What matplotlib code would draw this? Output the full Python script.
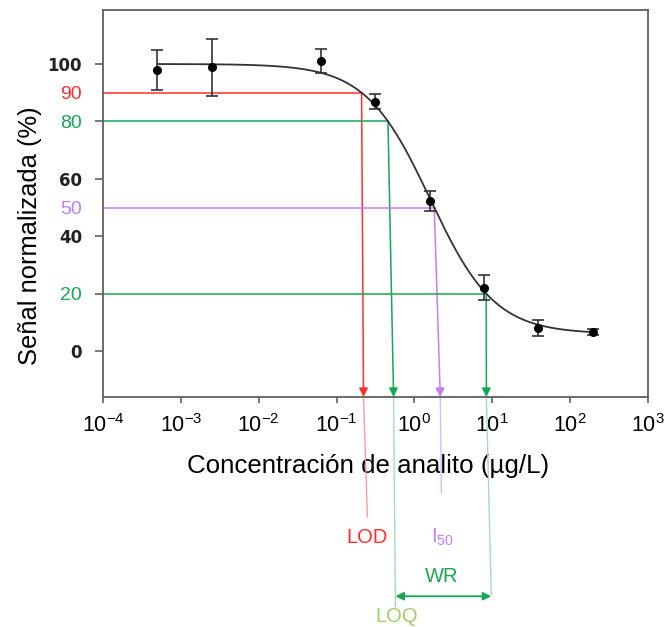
import numpy as np
import matplotlib
matplotlib.use('Agg')
import matplotlib.pyplot as plt
from matplotlib.ticker import LogLocator, LogFormatterMathtext, NullLocator

plt.rcParams['font.family'] = ['Liberation Sans', 'DejaVu Sans']
plt.rcParams['mathtext.fontset'] = 'custom'
plt.rcParams['mathtext.rm'] = 'Liberation Sans'

# datos (serie de diluciones 1:5)
conc = [0.0005, 0.0025, 0.0625, 0.3125, 1.5625, 7.8125, 39.0625, 195.3125]
signal = [98.0, 98.8, 101.1, 86.9, 52.4, 22.1, 8.0, 6.7]
signal_err = [7.0, 9.8, 4.2, 2.5, 3.5, 4.3, 2.7, 1.0]

# ajuste logistico de 4 parametros
fit_top, fit_bottom, fit_hill, fit_ic50 = 100.0, 6.0, 1.05, 1.59

# lineas guia: nivel, conc. en el eje, conc. final bajo el eje, y final
guide_levels = [90, 80, 50, 20]
guide_x_axis = [0.222, 0.54, 2.15, 8.4]
guide_x_end = [0.249, 0.57, 2.22, 9.7]
guide_y_end = [-57.8, -89.0, -49.5, -85.0]
guide_colors = ['#ff2d2d', '#14a850', '#c67cf5', '#14a850']
guide_pale = ['#ff9a9a', '#a6dcb4', '#e2b6fb', '#a6dcb4']

ytick_vals = [0, 20, 40, 50, 60, 80, 90, 100]
ytick_labels = ['0', '20', '40', '50', '60', '80', '90', '100']
ytick_colors = ['#222222', '#14a850', '#222222', '#c67cf5', '#222222', '#14a850', '#ff2d2d', '#222222']

# etiquetas bajo el eje: texto, x, y, color
notes = [('LOD', 0.243, -65.0, '#ff2d2d'),
         (r'$\mathregular{I_{50}}$', 2.28, -65.0, '#c67cf5'),
         ('WR', 2.25, -78.5, '#14a850'),
         ('LOQ', 0.59, -92.5, '#9fcf6a')]
wr_range = [0.57, 9.7]
wr_y = -85.4


def logistic(x):
    return fit_bottom + (fit_top - fit_bottom) / (1 + (x / fit_ic50) ** fit_hill)


def inv_logistic(y):
    return fit_ic50 * ((fit_top - fit_bottom) / (y - fit_bottom) - 1) ** (1 / fit_hill)


fig = plt.figure(figsize=(6.68, 6.27), dpi=100)
ax = fig.add_axes([103 / 668, 1 - 397 / 627, 545 / 668, 387 / 627])
ax.set_xscale('log')
ax.set_xlim(1e-4, 1e3)
ymin, ymax = -16.0, 118.8
ax.set_ylim(ymin, ymax)

# curva de ajuste
xs = np.logspace(np.log10(conc[0]), np.log10(conc[-1]), 300)
ax.plot(xs, logistic(xs), color='#333333', lw=1.3, zorder=3)

# lineas guia
for lev, xa, xe, ye, c, cp in zip(guide_levels, guide_x_axis, guide_x_end,
                                  guide_y_end, guide_colors, guide_pale):
    xt = inv_logistic(lev)
    ax.plot([1e-4, xt], [lev, lev], color=c, lw=1.1, zorder=2)
    ax.annotate('', xy=(xa, ymin), xytext=(xt, lev),
                arrowprops=dict(arrowstyle='-|>', color=c, lw=1.1,
                                mutation_scale=13, shrinkA=0, shrinkB=0),
                zorder=2)
    ax.plot([xa, xe], [ymin, ye], color=cp, lw=1.0, clip_on=False)

ax.errorbar(conc, signal, yerr=signal_err, fmt='o', color='black',
            ecolor='#333333', elinewidth=1.2, capsize=4, capthick=1.2,
            markersize=5.5, zorder=4)

for txt, x, y, c in notes:
    ax.text(x, y, txt, color=c, fontsize=14.5, ha='center', va='center',
            clip_on=False)
ax.annotate('', xy=(wr_range[0], wr_y), xytext=(wr_range[1], wr_y),
            arrowprops=dict(arrowstyle='<|-|>', color='#14a850', lw=1.3,
                            mutation_scale=12, shrinkA=0, shrinkB=0),
            annotation_clip=False)

# ejes
ax.xaxis.set_major_locator(LogLocator(base=10, numticks=10))
ax.xaxis.set_major_formatter(LogFormatterMathtext())
ax.xaxis.set_minor_locator(NullLocator())
ax.tick_params(axis='x', direction='out', length=4, width=1.2, color='#606060',
               labelsize=15.5, pad=8)
ax.set_yticks(ytick_vals, ytick_labels)
ax.tick_params(axis='y', direction='out', length=6, width=1.2, color='#606060', pad=9)
for lab, c in zip(ax.get_yticklabels(), ytick_colors):
    lab.set_color(c)
    if c == '#222222':
        lab.set_fontfamily('DejaVu Sans')
        lab.set_fontweight('bold')
        lab.set_fontsize(12)
    else:
        lab.set_fontsize(14)
for t, v in zip(ax.yaxis.get_major_ticks(), ytick_vals):
    if v in (50, 90):
        t.tick1line.set_visible(False)

for s in ax.spines.values():
    s.set_color('#606060')
    s.set_linewidth(1.3)

ax.set_xlabel('Concentración de analito (µg/L)', fontsize=18.6)
ax.xaxis.set_label_coords(0.486, -0.148)
ax.xaxis.label.set_va('top')
ax.set_ylabel('Señal normalizada (%)', fontsize=18.4)
ax.yaxis.set_label_coords(-0.112, 0.416)

fig.savefig('out.png', dpi=100)
